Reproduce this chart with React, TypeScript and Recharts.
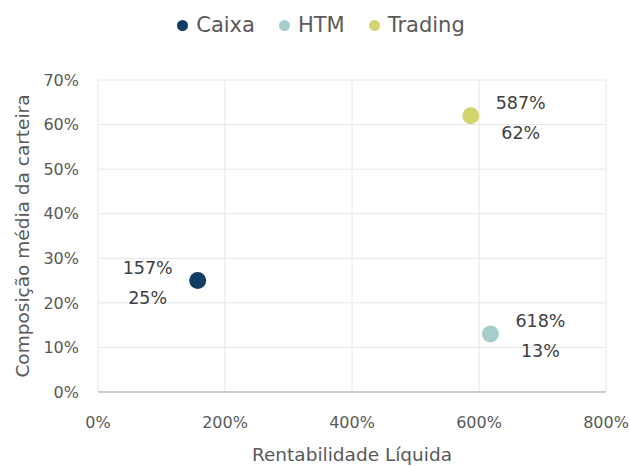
import React from "react";
import {
  ScatterChart,
  Scatter,
  XAxis,
  YAxis,
  CartesianGrid,
  Legend,
  LabelList,
} from "recharts";

const seriesNames = ["Caixa", "HTM", "Trading"];
const rentabilidade = [157, 618, 587];
const composicao = [25, 13, 62];
const seriesColors = ["#133d63", "#a6cdcc", "#d3d46e"];
const xTicks = [0, 200, 400, 600, 800];
const yTicks = [0, 10, 20, 30, 40, 50, 60, 70];
const labelSide = [-1, 1, 1];

const FONT = "'DejaVu Sans', 'Open Sans', sans-serif";

const makeLabel = (i: number) => (props: any) => {
  const { x, y, width, height } = props;
  const cx = x + (width || 0) / 2;
  const cy = y + (height || 0) / 2;
  const tx = cx + labelSide[i] * 50;
  return (
    <g>
      <text
        x={tx}
        y={cy - 13}
        textAnchor="middle"
        dominantBaseline="central"
        fontSize={17.5}
        fill="#404040"
        fontFamily={FONT}
      >
        {`${rentabilidade[i]}%`}
      </text>
      <text
        x={tx}
        y={cy + 17}
        textAnchor="middle"
        dominantBaseline="central"
        fontSize={17.5}
        fill="#404040"
        fontFamily={FONT}
      >
        {`${composicao[i]}%`}
      </text>
    </g>
  );
};

const renderLegend = () => (
  <div
    style={{
      display: "flex",
      justifyContent: "center",
      alignItems: "center",
      fontFamily: FONT,
      fontSize: 21,
      color: "#595959",
      gap: 24,
      paddingLeft: 10,
    }}
  >
    {seriesNames.map((n, i) => (
      <div key={n} style={{ display: "flex", alignItems: "center" }}>
        <svg width={11} height={11} style={{ marginRight: 8 }}>
          <circle cx={5.5} cy={5.5} r={5.5} fill={seriesColors[i]} />
        </svg>
        <span>{n}</span>
      </div>
    ))}
  </div>
);

export default function App() {
  return (
    <div style={{ position: "absolute", left: 0, top: 0, background: "#fff" }}>
      <ScatterChart
        width={630}
        height={466}
        margin={{ top: 50, right: 24, bottom: 6, left: 26 }}
      >
        <CartesianGrid stroke="#e6e6e6" horizontal vertical />
        <Legend
          verticalAlign="top"
          height={30}
          content={renderLegend}
          wrapperStyle={{ top: 13 }}
        />
        <XAxis
          type="number"
          dataKey="x"
          domain={[0, 800]}
          ticks={xTicks}
          tickFormatter={(v) => `${v}%`}
          tick={{ fill: "#595959", fontSize: 16, fontFamily: FONT }}
          tickLine={false}
          tickSize={6}
          tickMargin={19}
          axisLine={{ stroke: "#bfbfbf", strokeWidth: 1.5 }}
          height={68}
          label={{
            value: "Rentabilidade Líquida",
            position: "insideBottom",
            offset: -1,
            fill: "#595959",
            fontSize: 18.5,
            fontFamily: FONT,
          }}
        />
        <YAxis
          type="number"
          dataKey="y"
          domain={[0, 70]}
          ticks={yTicks}
          tickFormatter={(v) => `${v}%`}
          tick={{ fill: "#595959", fontSize: 16, fontFamily: FONT }}
          tickLine={false}
          axisLine={false}
          tickSize={6}
          tickMargin={13}
          width={72}
          label={{
            value: "Composição média da carteira",
            angle: -90,
            position: "insideLeft",
            offset: -4,
            style: { textAnchor: "middle" },
            fill: "#595959",
            fontSize: 18.5,
            fontFamily: FONT,
          }}
        />
        {seriesNames.map((n, i) => (
          <Scatter
            key={n}
            name={n}
            data={[{ x: rentabilidade[i], y: composicao[i] }]}
            fill={seriesColors[i]}
            isAnimationActive={false}
            shape={(p: any) => (
              <circle cx={p.cx} cy={p.cy} r={8.5} fill={seriesColors[i]} />
            )}
          >
            <LabelList dataKey="x" content={makeLabel(i)} />
          </Scatter>
        ))}
      </ScatterChart>
    </div>
  );
}
